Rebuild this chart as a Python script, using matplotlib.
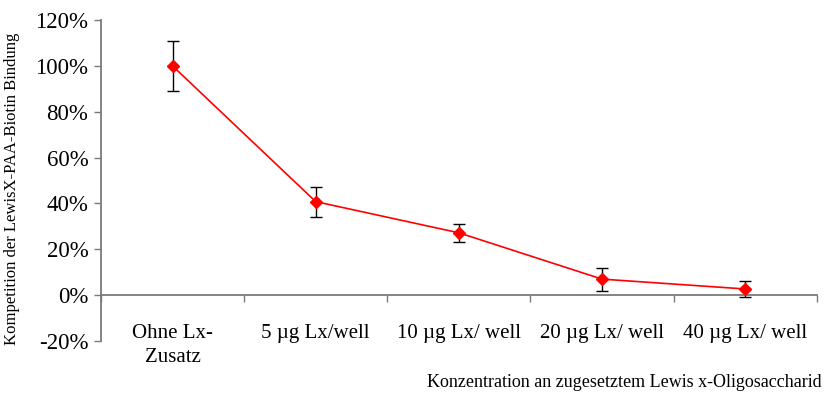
import matplotlib
matplotlib.use("Agg")
import matplotlib.pyplot as plt
import numpy as np

categories = ["Ohne Lx-\nZusatz", "5 µg Lx/well", "10 µg Lx/ well", "20 µg Lx/ well", "40 µg Lx/ well"]
values = [100.0, 40.8, 27.2, 7.0, 2.7]
errors = [10.8, 6.5, 4.0, 5.0, 3.5]
yticks = [-20, 0, 20, 40, 60, 80, 100, 120]

plt.rcParams["font.family"] = ["Liberation Serif", "DejaVu Serif"]

fig = plt.figure(figsize=(8.25, 3.94), dpi=100)
ax = fig.add_axes([0.1224, 0.1345, 0.990 - 0.1224, 0.949 - 0.1345])

x = np.arange(len(categories))
ax.errorbar(x, values, yerr=errors, fmt="none", ecolor="black", elinewidth=1.0,
            capsize=4.5, capthick=1.0, zorder=2)
ax.plot(x, values, color="#ff0000", lw=1.2, marker="D", markersize=6,
        markerfacecolor="#ff0000", markeredgecolor="#ff0000", zorder=3)

ax.set_xlim(-0.5, len(categories) - 0.5)
ax.set_ylim(-20, 120)
ax.set_yticks(yticks)
ax.set_yticklabels([f"{v}%" for v in yticks], fontsize=16.5)

ax.spines["top"].set_visible(False)
ax.spines["right"].set_visible(False)
ax.spines["bottom"].set_position(("data", 0))
for s in ("left", "bottom"):
    ax.spines[s].set_color("#7a7a7a")
    ax.spines[s].set_linewidth(1.3)

ax.tick_params(axis="y", direction="out", length=5, width=1.0, color="#7a7a7a", pad=4)
ax.set_xticks(x)
ax.set_xticklabels(categories, fontsize=15, linespacing=1.35)
ax.tick_params(axis="x", which="major", length=0, pad=21)
ax.set_xticks(np.arange(-0.5, len(categories)), minor=True)
ax.tick_params(axis="x", which="minor", direction="out", length=5, width=1.0, color="#7a7a7a")

fig.text(0.015, 0.522, "Kompetition der LewisX-PAA-Biotin Bindung", rotation=90,
         ha="center", va="center", fontsize=12)
fig.text(0.996, 0.028, "Konzentration an zugesetztem Lewis x-Oligosaccharid",
         ha="right", va="center", fontsize=13)

fig.savefig("out.png", dpi=100)
